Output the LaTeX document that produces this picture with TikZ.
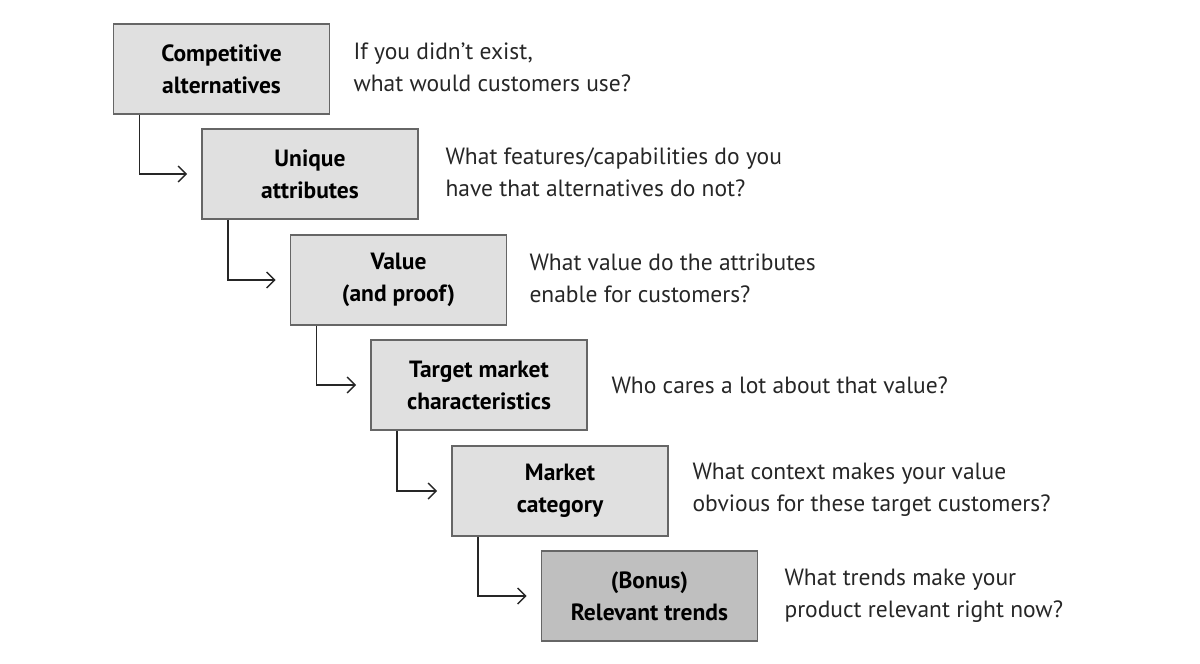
\documentclass[tikz,border=0pt]{standalone}
\usepackage{fontspec}
\setmainfont{PT Sans}
\usetikzlibrary{calc,arrows.meta}
\begin{document}
\begin{tikzpicture}[x=1pt,y=-1pt,
  box/.style={draw=black!60,line width=1.8pt,fill=black!12,minimum width=216pt,minimum height=90pt,
    inner sep=0pt,align=center,font=\fontsize{23.5}{32}\selectfont\bfseries},
  q/.style={anchor=west,align=left,font=\fontsize{23.5}{32}\selectfont,text=black!85},
  conn/.style={line width=1.4pt,black!85,-{Straight Barb[length=8pt,width=16pt]}}]
\useasboundingbox (0,0) rectangle (1200,664);
\node[box] (b1) at (221.5,69) {Competitive\\alternatives};
\node[box] (b2) at (310,174) {Unique\\attributes};
\node[box] (b3) at (398.5,280) {Value\\(and proof)};
\node[box] (b4) at (479,385) {Target market\\characteristics};
\node[box] (b5) at (560,491) {Market\\category};
\node[box,fill=black!25] (b6) at (649.5,596) {(Bonus)\\Relevant trends};
\node[q] (t1) at (350,67) {If you didn’t exist,\\what would customers use?};
\node[q] (t2) at (442,172) {What features/capabilities do you\\have that alternatives do not?};
\node[q] (t3) at (526,278) {What value do the attributes\\enable for customers?};
\node[q] (t4) at (608,385) {Who cares a lot about that value?};
\node[q] (t5) at (689,490) {What context makes your value\\obvious for these target customers?};
\node[q] (t6) at (781,596) {What trends make your\\product relevant right now?};
\foreach \a/\b in {b1/b2,b2/b3,b3/b4,b4/b5,b5/b6}
  \draw[conn] ($(\a.south west)+(27,0)$) |- ($(\b.west)+(-14,0)$);
\end{tikzpicture}
\end{document}
